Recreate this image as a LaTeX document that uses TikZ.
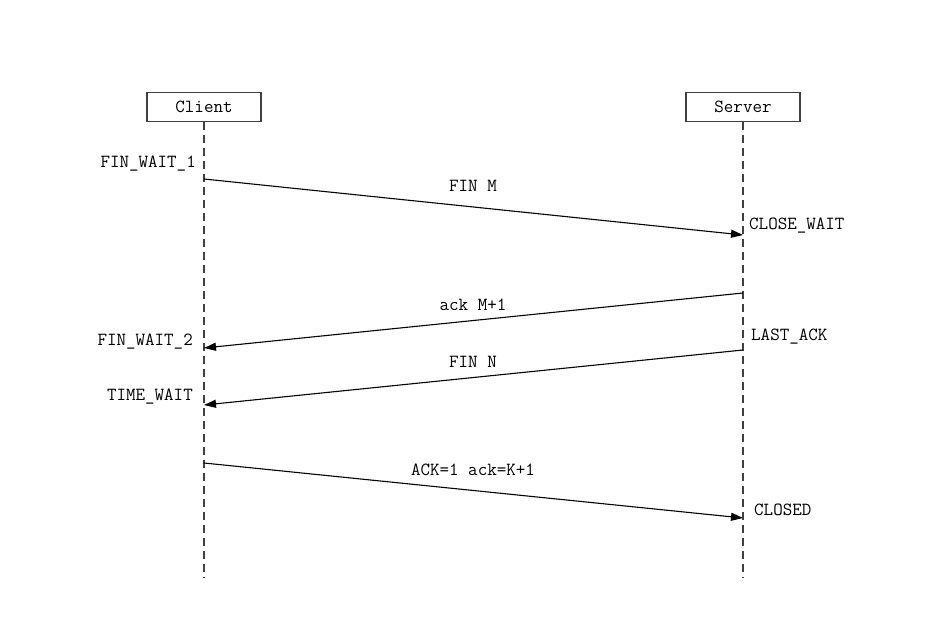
\documentclass[tikz,border=0pt]{standalone}
\usetikzlibrary{arrows.meta}

\tikzset{
    party/.style={draw=black!75, line width=1.2pt, minimum width=114pt, minimum height=29pt, inner sep=0pt},
    lifeline/.style={line width=1.2pt, black!75, dash pattern=on 8pt off 5pt},
    msg/.style={->, line width=1.1pt},
    statelabel/.style={inner sep=0pt}
}

\begin{document}
\begin{tikzpicture}[x=1pt, y=-1pt, >={Triangle[length=12pt,width=8pt]}, font=\ttfamily\fontsize{18.5}{20}\selectfont]

        \useasboundingbox (0,0) rectangle (933,620);

        % Participants
        \node[party] (client) at (204,107) {Client};
        \node[party] (server) at (743,107) {Server};

        % Lifelines (dashed, down to the bottom)
        \coordinate (client end) at (204,578);
        \coordinate (server end) at (743,578);
        \draw[lifeline] (client) -- (client end);
        \draw[lifeline] (server) -- (server end);

        % Points on the lifelines where messages leave and arrive
        \coordinate (c1) at (204,179);
        \coordinate (s1) at (743,235);
        \coordinate (s2) at (743,293);
        \coordinate (c2) at (204,348);
        \coordinate (s3) at (743,350);
        \coordinate (c3) at (204,405);
        \coordinate (c4) at (204,463);
        \coordinate (s4) at (743,518);

        % Messages
        \draw[msg] (c1) -- (s1);
        \node (fin m) at (473,186) {FIN M};
        \draw[msg] (s2) -- (c2);
        \node (ack m) at (473,305) {ack M+1};
        \draw[msg] (s3) -- (c3);
        \node (fin n) at (473,362) {FIN N};
        \draw[msg] (c4) -- (s4);
        \node (ack k) at (473,470) {ACK=1 ack=K+1};

        % Client states
        \node[statelabel, anchor=east] (fw1) at (196,164) {FIN\_WAIT\_1};
        \node[statelabel, anchor=east] (fw2) at (193,342) {FIN\_WAIT\_2};
        \node[statelabel, anchor=east] (tw) at (193,397) {TIME\_WAIT};

        % Server states
        \node[statelabel, anchor=west] (cw) at (749,226) {CLOSE\_WAIT};
        \node[statelabel, anchor=west] (la) at (751,337) {LAST\_ACK};
        \node[statelabel, anchor=west] (cl) at (754,510) {CLOSED};

    \end{tikzpicture}
\end{document}
